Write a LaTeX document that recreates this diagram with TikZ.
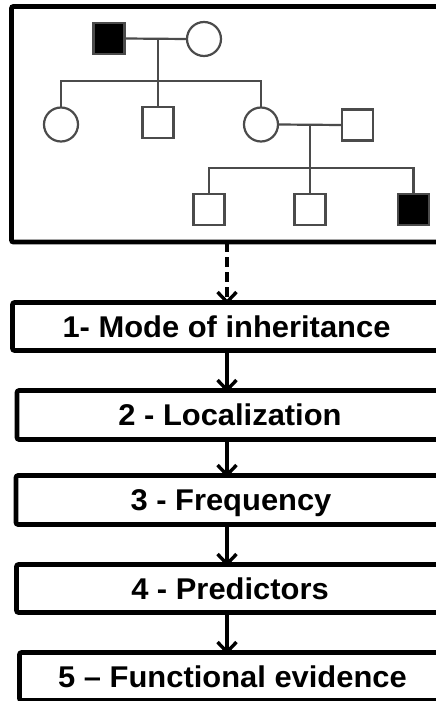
\documentclass[tikz,border=0pt]{standalone}
\usepackage{fontspec}
\setmainfont{Liberation Sans}
\usepackage{graphicx}
\usetikzlibrary{arrows.meta}
\definecolor{pedgray}{RGB}{75,75,75}
\newcommand\stx[1]{\scalebox{1.03}[1]{#1}}
\begin{document}
\begin{tikzpicture}[x=1pt,y=-1pt,
  frame/.style={draw=black, line width=4.8pt, rounded corners=2pt, rectangle, anchor=north west, outer sep=0pt, inner sep=0pt},
  stepbox/.style={draw=black, line width=4.6pt, rounded corners=2pt, rectangle, anchor=north west, outer sep=0pt, inner sep=0pt,
    font=\fontsize{30}{32}\selectfont\bfseries, text height=21.5pt, text depth=0pt},
  sq/.style={draw=pedgray, line width=2.2pt, rectangle, minimum size=31pt, inner sep=0pt, outer sep=0pt},
  affected/.style={sq, fill=black},
  ci/.style={draw=pedgray, line width=2.2pt, circle, minimum size=34pt, inner sep=0pt, outer sep=0pt},
  pline/.style={draw=pedgray, line width=2.2pt},
  arr/.style={draw=black, line width=3.4pt, -{Straight Barb[length=10pt,width=19pt]}},
  darr/.style={arr, dash pattern=on 10pt off 5pt}
]
\useasboundingbox (0,0) rectangle (436,701);
\clip (0,0) rectangle (436,701);

% pedigree frame
\node[frame, minimum width=460pt, minimum height=235.5pt] (ped) at (11.5,6.5) {};

% generation I
\node[affected] (f1) at (109,38.5) {};
\node[ci] (m1) at (204,39) {};
\coordinate (mar1) at (158,38.5);
\coordinate (sib1) at (158,81);
\draw[pline] (f1.east) -- (m1.west);
\draw[pline] (mar1) -- (sib1);

% generation II
\node[ci] (c1) at (61,124.5) {};
\node[sq] (c2) at (158,122.5) {};
\node[ci] (c3) at (261,124.5) {};
\node[sq] (sp) at (357.5,125) {};
\draw[pline] (c1.north) |- (sib1) -| (c3.north);
\draw[pline] (sib1) -- (c2.north);
\draw[pline] (c3.east) -- (sp.west);
\coordinate (mar2) at (310,125);
\coordinate (sib2) at (310,168);
\draw[pline] (mar2) -- (sib2);

% generation III
\node[sq] (g1) at (209,209.5) {};
\node[sq] (g2) at (310,209.5) {};
\node[affected] (g3) at (413.5,209.5) {};
\draw[pline] (g1.north) |- (sib2) -| (g3.north);
\draw[pline] (sib2) -- (g2.north);

% steps
\node[stepbox, minimum width=428pt, minimum height=48pt] (b1) at (12.5,302.5) {\stx{1- Mode of inheritance}};
\node[stepbox, minimum width=426pt, minimum height=49pt] (b2) at (17,390.5) {\stx{2 - Localization}};
\node[stepbox, minimum width=430pt, minimum height=49pt] (b3) at (16,475.5) {\stx{3 - Frequency}};
\node[stepbox, minimum width=427pt, minimum height=48pt] (b4) at (16.5,564.5) {\stx{4 - Predictors}};
\node[stepbox, minimum width=426pt, minimum height=48pt] (b5) at (19.5,652.5) {\stx{5 -- Functional evidence}};

\coordinate (ax) at (227,0);
\draw[darr] (ped.south -| ax) -- ([yshift=-2pt]b1.north -| ax);
\draw[arr] (b1.south -| ax) -- ([yshift=-2pt]b2.north -| ax);
\draw[arr] (b2.south -| ax) -- ([yshift=-2pt]b3.north -| ax);
\draw[arr] (b3.south -| ax) -- ([yshift=-2pt]b4.north -| ax);
\draw[arr] (b4.south -| ax) -- ([yshift=-2pt]b5.north -| ax);
\end{tikzpicture}
\end{document}
